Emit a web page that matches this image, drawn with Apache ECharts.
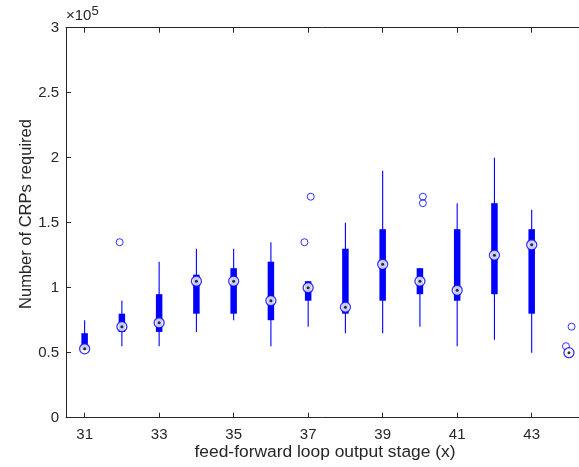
<!DOCTYPE html>
<html>
<head>
<meta charset="utf-8">
<script src="https://cdn.jsdelivr.net/npm/echarts@6/dist/echarts.min.js"></script>
<style>
html,body{margin:0;padding:0;background:#fff;}
#c{width:579px;height:467px;}
</style>
</head>
<body>
<div id="c"></div>
<script>
// values in units of 1e5
const categories = [31, 32, 33, 34, 35, 36, 37, 38, 39, 40, 41, 42, 43, 44];
const whiskerLow  = [0.52, 0.55, 0.55, 0.66, 0.75, 0.55, 0.70, 0.65, 0.65, 0.70, 0.55, 0.60, 0.50, 0.50];
const q1          = [0.52, 0.66, 0.66, 0.80, 0.80, 0.75, 0.90, 0.80, 0.90, 0.95, 0.90, 0.95, 0.80, 0.50];
const medians     = [0.53, 0.70, 0.73, 1.05, 1.05, 0.90, 1.00, 0.85, 1.18, 1.05, 0.98, 1.25, 1.33, 0.50];
const q3          = [0.65, 0.80, 0.95, 1.10, 1.15, 1.20, 1.05, 1.30, 1.45, 1.15, 1.45, 1.65, 1.45, 0.50];
const whiskerHigh = [0.75, 0.90, 1.20, 1.30, 1.30, 1.35, 1.05, 1.50, 1.90, 1.15, 1.65, 2.00, 1.60, 0.50];
// outliers: [jittered stage, value]
const outliers = [[31.94, 1.35], [36.9, 1.35], [37.07, 1.70], [40.08, 1.65], [40.08, 1.70], [43.92, 0.55], [44.07, 0.70]];
const xTickValues = [31, 33, 35, 37, 39, 41, 43];
const yTickLabels = ['0', '0.5', '1', '1.5', '2', '2.5', '3'];

const BLUE = '#0000ff';
const AX = '#262626';
const FONT = 'Liberation Sans, Arial, sans-serif';

const chart = echarts.init(document.getElementById('c'), null, {renderer: 'canvas'});

const boxData = categories.map((c, i) => [c, whiskerLow[i], q1[i], q3[i], whiskerHigh[i]]);
const medData = categories.map((c, i) => [c, medians[i]]);

const option = {
  animation: false,
  backgroundColor: '#fff',
  grid: {left: 66, top: 27.7, right: 0, bottom: 49.3, containLabel: false},
  xAxis: [{
    type: 'value', min: 30.5, max: 44.27, position: 'bottom',
    axisLine: {show: true, onZero: false, lineStyle: {color: AX, width: 1}},
    axisTick: {show: true, inside: true, length: 5, customValues: xTickValues, lineStyle: {color: AX}},
    axisLabel: {show: true, customValues: xTickValues, color: AX, fontSize: 15, fontFamily: FONT, margin: 10},
    splitLine: {show: false}
  }, {
    type: 'value', min: 30.5, max: 44.27, position: 'top',
    axisLine: {show: true, onZero: false, lineStyle: {color: AX, width: 1}},
    axisTick: {show: true, inside: true, length: 5, customValues: xTickValues, lineStyle: {color: AX}},
    axisLabel: {show: false},
    splitLine: {show: false}
  }],
  yAxis: [{
    type: 'value', min: 0, max: 3, interval: 0.5, position: 'left',
    axisLine: {show: true, onZero: false, lineStyle: {color: AX, width: 1}},
    axisTick: {show: true, inside: true, length: 5, lineStyle: {color: AX}},
    axisLabel: {color: AX, fontSize: 15, fontFamily: FONT, margin: 7,
      formatter: (v) => yTickLabels[Math.round(v / 0.5)]},
    splitLine: {show: false}
  }],
  series: [{
    type: 'custom',
    data: boxData,
    encode: {x: 0, y: [1, 2, 3, 4]},
    renderItem: function (params, api) {
      const x = api.value(0);
      const pLo = api.coord([x, api.value(1)]);
      const pQ1 = api.coord([x, api.value(2)]);
      const pQ3 = api.coord([x, api.value(3)]);
      const pHi = api.coord([x, api.value(4)]);
      const lx = pLo[0];
      return {
        type: 'group',
        children: [
          {type: 'line', shape: {x1: lx, y1: pLo[1], x2: lx, y2: pHi[1]},
           style: {stroke: BLUE, lineWidth: 1.1}},
          {type: 'rect', shape: {x: lx - 3.25, y: pQ3[1], width: 6.5, height: pQ1[1] - pQ3[1]},
           style: {fill: BLUE}}
        ]
      };
    },
    z: 2
  }, {
    type: 'scatter',
    data: outliers,
    symbol: 'circle',
    symbolSize: 7,
    itemStyle: {color: 'rgba(0,0,0,0)', borderColor: BLUE, borderWidth: 1},
    z: 3
  }, {
    type: 'scatter',
    data: medData,
    symbol: 'circle',
    symbolSize: 10,
    itemStyle: {color: '#fff', borderColor: BLUE, borderWidth: 1.3},
    z: 4
  }, {
    type: 'scatter',
    data: medData,
    symbol: 'circle',
    symbolSize: 3,
    itemStyle: {color: '#000'},
    z: 5
  }],
  graphic: [{
    type: 'text', left: 66, top: 5,
    style: {
      text: '×10{s|5}', fill: AX, font: '15px ' + FONT,
      rich: {s: {fontSize: 13, verticalAlign: 'top', padding: [0, 0, 8, 0], fill: AX, fontFamily: FONT}}
    }
  }, {
    type: 'text', x: 325, y: 452,
    style: {text: 'feed-forward loop output stage (x)', fill: AX, font: '17.4px ' + FONT,
      align: 'center', verticalAlign: 'middle'}
  }, {
    type: 'text', x: 26, y: 214, rotation: Math.PI / 2,
    style: {text: 'Number of CRPs required', fill: AX, font: '16.5px ' + FONT,
      align: 'center', verticalAlign: 'middle'}
  }]
};
chart.setOption(option);
</script>
</body>
</html>
